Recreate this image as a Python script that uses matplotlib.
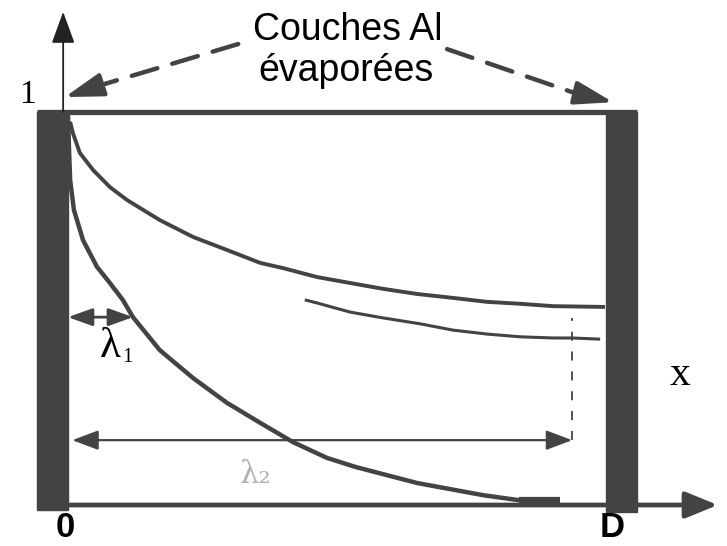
import numpy as np
import matplotlib
matplotlib.use('Agg')
import matplotlib.pyplot as plt
from matplotlib.patches import Rectangle

# Profiles (x in units of D, y normalised to 1 at the top bar)
xA = [0.004, 0.009, 0.022, 0.047, 0.078, 0.110, 0.171, 0.233, 0.296, 0.358,
      0.400, 0.464, 0.525, 0.587, 0.650, 0.717, 0.780, 0.842, 0.903, 1.000]
yA = [0.975, 0.947, 0.896, 0.852, 0.809, 0.776, 0.725, 0.682, 0.649, 0.616,
      0.603, 0.580, 0.565, 0.550, 0.537, 0.527, 0.517, 0.512, 0.506, 0.504]

xB = [0.441, 0.464, 0.525, 0.587, 0.656, 0.717, 0.780, 0.842, 0.903, 0.939, 0.991]
yB = [0.522, 0.514, 0.491, 0.476, 0.461, 0.445, 0.435, 0.428, 0.425, 0.425, 0.422]

xC = [0.000, 0.002, 0.004, 0.011, 0.028, 0.054, 0.078, 0.102, 0.121, 0.171,
      0.233, 0.296, 0.358, 0.419, 0.482, 0.535, 0.650, 0.773, 0.836, 0.879, 0.916]
yC = [0.992, 0.903, 0.827, 0.751, 0.674, 0.606, 0.565, 0.522, 0.478, 0.394,
      0.323, 0.260, 0.209, 0.160, 0.120, 0.097, 0.056, 0.025, 0.013, 0.010, 0.010]

lambda1 = 0.121     # where curve C crosses the lambda_1 marker
lambda1_y = 0.478
lambda2 = 0.939     # end of the lambda_2 marker
lambda2_y = 0.165

wall = 0.058        # thickness of the evaporated Al layers (in D)
dark = '#434343'

fig = plt.figure(figsize=(7.27, 5.46), dpi=100)
ax = fig.add_axes([0, 0, 1, 1])
ax.set_xlim(-0.1266, 1.2272)
ax.set_ylim(-0.1043, 1.285)
ax.axis('off')

# Al layers on both sides + top bar
ax.add_patch(Rectangle((-wall, -0.013), wall, 1.013, color=dark, zorder=3))
ax.add_patch(Rectangle((1.002, -0.018), wall, 1.018, color=dark, zorder=3))
ax.plot([-wall, 1.002 + wall], [1.0, 1.0], color=dark, lw=3.8, solid_capstyle='butt', zorder=3)

# axes: y arrow at the wall, x arrow along the bottom
ax.annotate('', xy=(-0.009, 1.255), xytext=(-0.009, 1.0),
            arrowprops=dict(arrowstyle='-|>,head_length=1.1,head_width=0.4',
                            color='#222222', lw=1.3, mutation_scale=18, shrinkA=0, shrinkB=0))
ax.annotate('', xy=(1.21, 0.0), xytext=(0.0, 0.0),
            arrowprops=dict(arrowstyle='-|>,head_length=1.1,head_width=0.45',
                            color=dark, lw=3.4, mutation_scale=18, shrinkA=0, shrinkB=0),
            zorder=2)

# profiles
kw = dict(color=dark, solid_capstyle='butt', solid_joinstyle='round', zorder=4)
ax.plot(xA, yA, lw=2.8, **kw)
ax.plot(xB, yB, lw=2.2, **kw)
ax.plot(xC, yC, lw=3.2, **kw)
ax.plot([0.84, 0.916], [0.012, 0.012], lw=4.5, **kw)

# lambda markers
ax.annotate('', xy=(lambda1, lambda1_y), xytext=(0.0, lambda1_y),
            arrowprops=dict(arrowstyle='<|-|>,head_length=0.75,head_width=0.27',
                            color=dark, lw=2.0, mutation_scale=20, shrinkA=0, shrinkB=0))
ax.annotate('', xy=(lambda2, lambda2_y), xytext=(0.008, lambda2_y),
            arrowprops=dict(arrowstyle='<|-|>,head_length=0.8,head_width=0.3',
                            color=dark, lw=1.6, mutation_scale=20, shrinkA=0, shrinkB=0))
ax.plot([lambda2, lambda2], [lambda2_y, 0.476], color=dark, lw=1.3,
        linestyle=(0, (5, 6)))

ax.text(0.078, 0.376, 'λ', fontsize=31, ha='center', va='baseline',
        family='Liberation Serif')
ax.text(0.110, 0.364, '1', fontsize=15, ha='center', va='baseline',
        family='Liberation Serif')
ax.text(0.35, 0.078, 'λ₂', fontsize=22, ha='center', va='center',
        family='DejaVu Serif', color='#b0b0b0')

# labels
ax.text(-0.076, 1.043, '1', fontsize=24, ha='center', va='center', family='Liberation Serif')
ax.text(-0.006, -0.058, '0', fontsize=25, ha='center', va='center',
        family='Liberation Sans', fontweight='bold')
ax.text(1.013, -0.058, 'D', fontsize=25, ha='center', va='center',
        family='Liberation Sans', fontweight='bold')
ax.text(1.14, 0.331, 'x', fontsize=30, ha='center', va='center', family='Liberation Serif')

ax.text(0.521, 1.209, 'Couches Al', fontsize=27, ha='center', va='center',
        family='Liberation Sans')
ax.text(0.518, 1.105, 'évaporées', fontsize=27, ha='center', va='center',
        family='Liberation Sans')

# dashed arrows pointing at the Al layers
for start, mid, tip in [((0.317, 1.173), (0.07, 1.072), (-0.006, 1.038)),
                        ((0.706, 1.160), (0.940, 1.050), (1.015, 1.025))]:
    ax.annotate('', xy=mid, xytext=start,
                arrowprops=dict(arrowstyle='-', color=dark, lw=3.2,
                                linestyle=(0, (6, 3.5)), shrinkA=0, shrinkB=0))
    ax.annotate('', xy=tip, xytext=mid,
                arrowprops=dict(arrowstyle='-|>,head_length=1.3,head_width=0.4',
                                color=dark, lw=3.0, mutation_scale=18, shrinkA=0, shrinkB=0))

fig.savefig('out.png', dpi=100)
